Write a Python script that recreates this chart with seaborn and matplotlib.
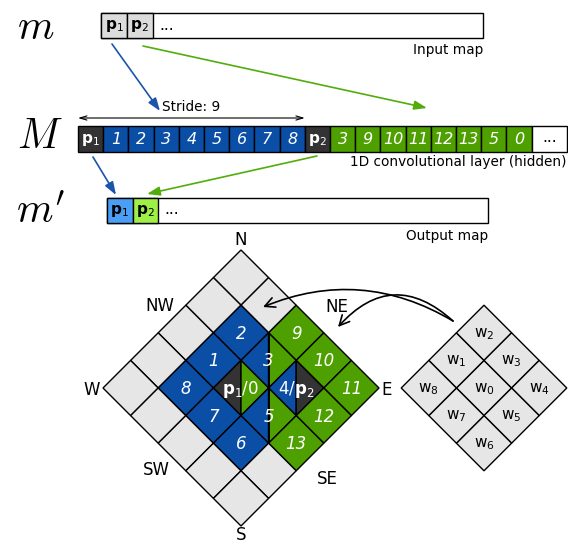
import numpy as np
import pandas as pd
import matplotlib.pyplot as plt
import seaborn as sns
from matplotlib.patches import Polygon, Rectangle, FancyArrowPatch

sns.set_theme(style="white")
plt.rcParams['font.family'] = ['DejaVu Sans']
plt.rcParams['text.color'] = 'black'

# ---- data ----
# input map m and output map m'
m_labels = [r'$\mathbf{p}_1$', r'$\mathbf{p}_2$']
m_out_labels = [r'$\mathbf{p}_1$', r'$\mathbf{p}_2$']

# hidden 1D conv layer M : p1 + its 8 neighbours, p2 + its 8 neighbours
M_labels = ['p1', '1', '2', '3', '4', '5', '6', '7', '8',
            'p2', '3', '9', '10', '11', '12', '13', '5', '0']
M_groups = ['dark'] + ['blue'] * 8 + ['dark'] + ['green'] * 8

# neighbourhood offsets (a, b) in the rotated grid: W0 (centre), then NW, N, NE, E, SE, S, SW, W
nbr_offsets = [(0, 0), (-1, 0), (-1, -1), (0, -1), (1, -1), (1, 0), (1, 1), (0, 1), (-1, 1)]
p1_pos = (0, 0)
p2_pos = (1, -1)
p1_nbr_labels = ['p1', '1', '2', '3', '4', '5', '6', '7', '8']
p2_nbr_labels = ['p2', '3', '9', '10', '11', '12', '13', '5', '0']
kernel_labels = [r'$\mathrm{w}_%d$' % i for i in range(9)]

compass = ['N', 'NE', 'E', 'SE', 'S', 'SW', 'W', 'NW']
compass_xy = [(241, 240), (337, 307), (387, 390), (327, 479),
              (241, 535), (156, 470), (92, 390), (160, 306)]

colors = {'dark': '#333333', 'blue': '#0a4ea6', 'green': '#4da000',
          'gray': '#e6e6e6', 'light': '#dcdcdc', 'lblue': '#4a9ef5', 'lgreen': '#9ef046'}
arrow_blue = '#1a55aa'
arrow_green = '#52ad0c'

fig = plt.figure(figsize=(5.68, 5.44), dpi=100)
ax = fig.add_axes([0, 0, 1, 1])
ax.set_xlim(0, 568)
ax.set_ylim(544, 0)
ax.axis('off')

EDGE = dict(edgecolor='black', linewidth=1.0)

# ---- m: input map ----
ax.text(36, 27, r'$m$', fontsize=30, math_fontfamily='cm', ha='center', va='center')
ax.add_patch(Rectangle((101, 13), 382, 25, facecolor='white', **EDGE))
for i, lab in enumerate(m_labels):
    ax.add_patch(Rectangle((101 + i * 25.8, 13), 25.8, 25, facecolor=colors['light'], **EDGE))
    ax.text(101 + i * 25.8 + 12.9, 26, lab, fontsize=11, math_fontfamily='dejavusans',
            ha='center', va='center')
ax.text(159, 25, '...', fontsize=11, ha='left', va='center')
ax.text(483, 50, 'Input map', fontsize=9.8, ha='right', va='center')

# ---- M: hidden layer ----
ax.text(40, 136, r'$M$', fontsize=30, math_fontfamily='cm', ha='center', va='center')
cw = 25.2
x0 = 78
for i, (lab, grp) in enumerate(zip(M_labels, M_groups)):
    ax.add_patch(Rectangle((x0 + i * cw, 126), cw, 26, facecolor=colors[grp], **EDGE))
    if lab.startswith('p'):
        ax.text(x0 + i * cw + cw / 2, 139.5, r'$\mathbf{p}_%s$' % lab[1], fontsize=11,
                color='white', math_fontfamily='dejavusans', ha='center', va='center')
    else:
        ax.text(x0 + i * cw + cw / 2, 139, lab, fontsize=11.5, style='italic',
                color='white', ha='center', va='center')
xe = x0 + len(M_labels) * cw
ax.add_patch(Rectangle((xe, 126), 567 - xe, 26, facecolor='white', **EDGE))
ax.text((xe + 567) / 2, 138, '...', fontsize=11, ha='center', va='center')
ax.text(567, 162, '1D convolutional layer (hidden)', fontsize=9.8, ha='right', va='center')

# stride arrow
ax.add_patch(FancyArrowPatch((x0, 118), (x0 + 9 * cw, 118), arrowstyle='<->,head_length=0.5,head_width=0.15',
                             mutation_scale=10, lw=0.8, color='black', shrinkA=0, shrinkB=0))
ax.text(x0 + 4.5 * cw, 107, 'Stride: 9', fontsize=9.8, ha='center', va='center')

# ---- m': output map ----
ax.text(40, 211, r"$m'$", fontsize=30, math_fontfamily='cm', ha='center', va='center')
ax.add_patch(Rectangle((107, 198), 381, 25, facecolor='white', **EDGE))
for i, (lab, c) in enumerate(zip(m_out_labels, ['lblue', 'lgreen'])):
    ax.add_patch(Rectangle((107 + i * 25.5, 198), 25.5, 25, facecolor=colors[c], **EDGE))
    ax.text(107 + i * 25.5 + 12.75, 211, lab, fontsize=11, math_fontfamily='dejavusans',
            ha='center', va='center')
ax.text(164, 210, '...', fontsize=11, ha='left', va='center')
ax.text(488, 236, 'Output map', fontsize=9.8, ha='right', va='center')

# ---- straight arrows between maps ----
def straight(p, q, col):
    ax.add_patch(FancyArrowPatch(p, q, arrowstyle='-|>,head_length=0.7,head_width=0.25',
                                 mutation_scale=11, lw=1.2, color=col, shrinkA=0, shrinkB=0))

straight((112, 44), (160, 111), arrow_blue)
straight((143, 46), (427, 108), arrow_green)
straight((93, 157), (116, 195), arrow_blue)
straight((317, 156), (147, 194), arrow_green)

# ---- rotated 5x5 grid ----
cx, cy, h = 241, 388, 27.6


def cell_xy(a, b, cx=cx, cy=cy):
    return cx + (a - b) * h, cy + (a + b) * h


p1_cells = {(p1_pos[0] + da, p1_pos[1] + db): lab for (da, db), lab in zip(nbr_offsets, p1_nbr_labels)}
p2_cells = {(p2_pos[0] + da, p2_pos[1] + db): lab for (da, db), lab in zip(nbr_offsets, p2_nbr_labels)}

for a in range(-2, 3):
    for b in range(-2, 3):
        x, y = cell_xy(a, b)
        L, T, R, B = (x - h, y), (x, y - h), (x + h, y), (x, y + h)
        in1, in2 = (a, b) in p1_cells, (a, b) in p2_cells
        if in1 and in2:
            l1, l2 = p1_cells[(a, b)], p2_cells[(a, b)]
            c1 = colors['dark'] if l1 == 'p1' else colors['blue']
            c2 = colors['dark'] if l2 == 'p2' else colors['green']
            ax.add_patch(Polygon([L, T, B], facecolor=c1, **EDGE))
            ax.add_patch(Polygon([T, R, B], facecolor=c2, **EDGE))
            if l1 == l2:
                ax.text(x, y + 1, l1, fontsize=12, style='italic', color='white',
                        ha='center', va='center')
            else:
                s1 = r'\mathbf{p}_1' if l1 == 'p1' else r'\mathit{%s}' % l1
                s2 = r'\mathbf{p}_2' if l2 == 'p2' else r'\mathit{%s}' % l2
                ax.text(x, y + 1, r'$%s\mathit{/}%s$' % (s1, s2), fontsize=12, color='white',
                        math_fontfamily='dejavusans', ha='center', va='center')
        else:
            if in1:
                fc, lab = colors['blue'], p1_cells[(a, b)]
            elif in2:
                fc, lab = colors['green'], p2_cells[(a, b)]
            else:
                fc, lab = colors['gray'], None
            ax.add_patch(Polygon([L, T, R, B], facecolor=fc, **EDGE))
            if lab:
                ax.text(x, y + 1, lab, fontsize=12, style='italic', color='white',
                        ha='center', va='center')

# heavy boundary through shared cells
x3, y3 = cell_xy(0, -1)
x5, y5 = cell_xy(1, 0)
ax.plot([x3, x5], [y3 - h, y5 + h], color='black', lw=1.4)

for lab, (x, y) in zip(compass, compass_xy):
    ax.text(x, y, lab, fontsize=12, ha='center', va='center')

# ---- kernel ----
kx, ky = 484, 388
for (da, db), lab in zip(nbr_offsets, kernel_labels):
    x, y = cell_xy(da, db, kx, ky)
    ax.add_patch(Polygon([(x - h, y), (x, y - h), (x + h, y), (x, y + h)],
                         facecolor=colors['gray'], **EDGE))
    ax.text(x, y + 1, lab, fontsize=11, math_fontfamily='dejavusans', ha='center', va='center')

# curved arrows from kernel to grid
for tip, rad in [((263, 307), 0.25), ((338, 327), 0.5)]:
    ax.add_patch(FancyArrowPatch((453, 321), tip, connectionstyle='arc3,rad=%s' % rad,
                                 arrowstyle='->,head_length=0.6,head_width=0.3',
                                 mutation_scale=12, lw=1.2, color='black', shrinkA=0, shrinkB=0))

fig.savefig('out.png', dpi=100, facecolor='white')
